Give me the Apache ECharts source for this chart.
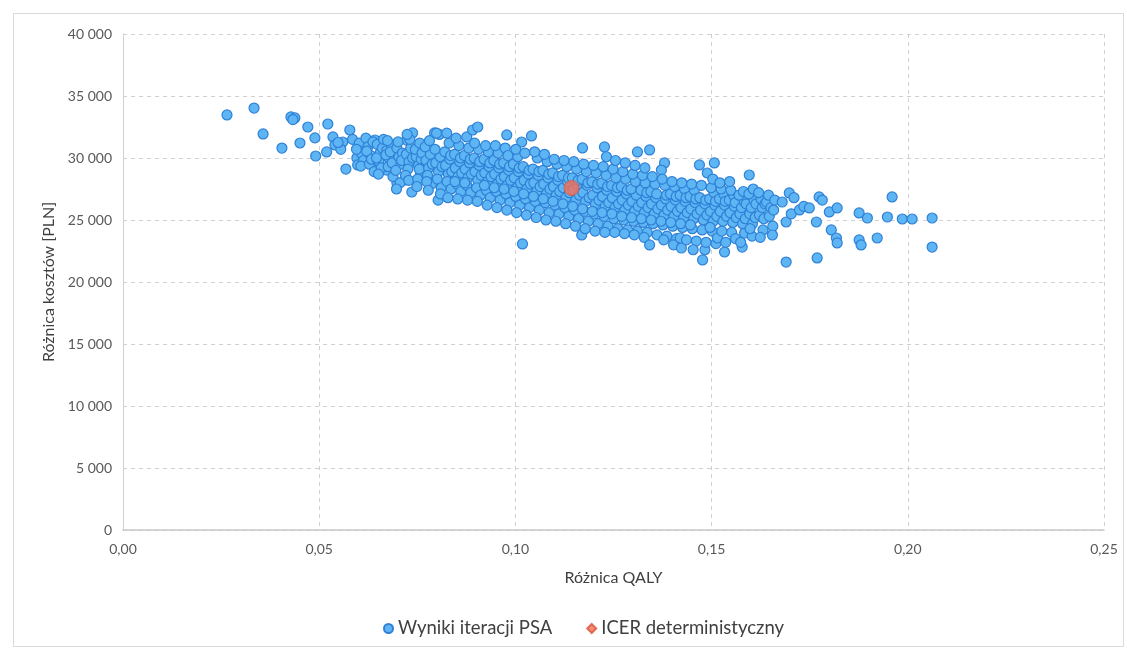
<!DOCTYPE html>
<html>
<head>
<meta charset="utf-8">
<script src="https://cdn.jsdelivr.net/npm/echarts@6/dist/echarts.min.js"></script>
<style>
html,body{margin:0;padding:0;background:#fff;}
#chart{width:1127px;height:651px;}
</style>
</head>
<body>
<div id="chart"></div>
<script>
// ---- Data (QALY difference, cost difference in PLN) ----
const seriesNames = ['Wyniki iteracji PSA', 'ICER deterministyczny'];
const xTicks = [0, 0.05, 0.10, 0.15, 0.20, 0.25];
const yTicks = [0, 5000, 10000, 15000, 20000, 25000, 30000, 35000, 40000];

const psaLeftTail = [
  [0.0265,33470],[0.0334,34030],[0.0357,31940],[0.0405,30800],[0.0428,33310],[0.0438,33230],
  [0.0433,33100],[0.0451,31210],[0.0471,32500],[0.0489,31620],[0.0491,30160],[0.0519,30490],
  [0.0522,32740],[0.0535,31700],[0.0540,31050],[0.0578,32260],[0.0560,31290],[0.0568,29110],
  [0.0596,30000],[0.0598,29440],[0.0616,31050],[0.0642,31450],[0.0647,30080],[0.0637,29440],
  [0.0672,29030],[0.0698,27990],[0.0718,28230],[0.0736,27260],[0.0738,32020],[0.0723,31450],
  [0.0794,32020],[0.0555,30700],[0.0585,31500],[0.0548,31250]
];

const psaCoreA = [
  [0.0602,31200],[0.0608,30350],[0.0613,29800],[0.0595,30700],[0.0619,31600],[0.0606,29350],
  [0.0624,30900],[0.0631,30200],[0.0628,29500],[0.0637,31300],[0.0621,30550],[0.0640,28900],[0.0633,29900],
  [0.0648,31100],[0.0655,30400],[0.0652,29700],[0.0661,30800],[0.0646,30000],[0.0658,29200],[0.0664,31500],[0.0651,28700],
  [0.0672,30600],[0.0679,29900],[0.0676,29300],[0.0684,31000],[0.0670,30250],[0.0688,28500],[0.0681,30500],[0.0674,31400],[0.0686,29600],
  [0.0698,30800],[0.0703,30100],[0.0708,29500],[0.0695,29000],[0.0712,30400],[0.0701,31300],[0.0706,28000],[0.0710,29800],[0.0697,27500],
  [0.0722,30300],[0.0729,29700],[0.0726,29100],[0.0733,30800],[0.0720,28600],[0.0731,31500],[0.0724,31900],[0.0738,30000],[0.0728,28200],
  [0.0747,30100],[0.0753,29400],[0.0758,28800],[0.0745,30700],[0.0760,29900],[0.0751,28300],[0.0756,31200],[0.0749,27700],[0.0762,30400],[0.0755,29100],
  [0.0772,29800],[0.0779,29200],[0.0776,28600],[0.0783,30300],[0.0770,30900],[0.0786,27900],[0.0781,31400],[0.0774,28100],[0.0788,29500],[0.0778,27400],
  [0.0797,29600],[0.0804,28900],[0.0801,28300],[0.0808,30100],[0.0795,30700],[0.0811,27600],[0.0806,31900],[0.0799,32000],[0.0813,29300],[0.0803,26600],[0.0809,27100],
  [0.0822,29400],[0.0829,28700],[0.0826,28100],[0.0833,29900],[0.0820,30500],[0.0836,27500],[0.0831,31200],[0.0825,32000],[0.0838,28900],[0.0828,26800],[0.0835,30200],
  [0.0847,29200],[0.0854,28500],[0.0851,27900],[0.0858,29700],[0.0845,30300],[0.0861,27300],[0.0856,31000],[0.0849,31600],[0.0863,28800],[0.0853,26700],[0.0860,30000],[0.0846,28100],
  [0.0872,29100],[0.0879,28400],[0.0876,27800],[0.0883,29600],[0.0870,30200],[0.0886,27200],[0.0881,30800],[0.0876,31700],[0.0888,28700],[0.0878,26600],[0.0885,29900],[0.0871,28000],
  [0.0897,28900],[0.0904,28200],[0.0901,27600],[0.0908,29400],[0.0895,30000],[0.0911,27000],[0.0906,30700],[0.0891,32260],[0.0904,32500],[0.0913,28600],[0.0903,26500],[0.0909,29700],[0.0896,31200],
  [0.0922,28800],[0.0929,28100],[0.0926,27400],[0.0933,29300],[0.0920,29900],[0.0936,26800],[0.0931,30500],[0.0924,31000],[0.0938,28500],[0.0928,26200],[0.0935,29600],[0.0921,27800],
  [0.0947,28700],[0.0954,27900],[0.0951,27300],[0.0958,29200],[0.0945,29800],[0.0961,26600],[0.0956,30400],[0.0949,31000],[0.0963,28300],[0.0953,26000],[0.0960,29500],[0.0946,27600],
  [0.0972,28500],[0.0979,27800],[0.0976,27100],[0.0983,29000],[0.0970,29600],[0.0986,26400],[0.0978,31860],[0.0974,30800],[0.0988,28200],[0.0978,25800],[0.0985,29300],[0.0971,27500],[0.0981,30200]
];

const psaCoreB = [
  [0.0997,28400],[0.1004,27600],[0.1001,26900],[0.1008,28900],[0.0995,29500],[0.1011,26200],[0.1006,30100],[0.1016,31290],[0.1013,28000],[0.1003,25600],[0.1010,29200],[0.0996,27300],[0.1001,30700],
  [0.1022,28200],[0.1029,27500],[0.1026,26700],[0.1033,28700],[0.1020,29300],[0.1036,26000],[0.1041,31780],[0.1024,30400],[0.1038,27900],[0.1028,25400],[0.1035,29000],[0.1021,27100],[0.1018,23070],
  [0.1047,28000],[0.1054,27300],[0.1051,26500],[0.1058,28600],[0.1045,29100],[0.1061,25800],[0.1056,30000],[0.1049,30500],[0.1063,27700],[0.1053,25200],[0.1060,28900],[0.1046,26900],
  [0.1072,27900],[0.1079,27100],[0.1076,26400],[0.1083,28400],[0.1070,29000],[0.1086,25600],[0.1081,29700],[0.1074,30300],[0.1088,27500],[0.1078,25000],[0.1085,28700],[0.1071,26700],
  [0.1097,27700],[0.1104,27000],[0.1101,26200],[0.1108,28200],[0.1095,28800],[0.1111,25500],[0.1106,29500],[0.1099,29900],[0.1113,27300],[0.1103,24900],[0.1110,28500],[0.1096,26500],
  [0.1122,27600],[0.1129,26800],[0.1126,26000],[0.1133,28100],[0.1120,28600],[0.1136,25300],[0.1131,29300],[0.1124,29800],[0.1138,27200],[0.1128,24700],[0.1135,28400],[0.1121,26300],
  [0.1147,27400],[0.1154,26600],[0.1151,25800],[0.1158,27900],[0.1145,28400],[0.1161,25100],[0.1156,29100],[0.1149,29700],[0.1163,27000],[0.1153,24500],[0.1160,28200],[0.1146,26100],[0.1169,23790],
  [0.1171,30810],[0.1172,27200],[0.1179,26500],[0.1176,25700],[0.1183,27800],[0.1170,28300],[0.1186,24900],[0.1181,28900],[0.1174,29500],[0.1188,26800],[0.1178,24300],[0.1185,28000],[0.1171,25900],
  [0.1197,27000],[0.1204,26300],[0.1201,25500],[0.1208,27600],[0.1195,28100],[0.1211,24700],[0.1206,28800],[0.1199,29400],[0.1213,26600],[0.1203,24100],[0.1210,27900],[0.1196,25700],
  [0.1227,30890],[0.1222,26900],[0.1229,26100],[0.1226,25300],[0.1233,27400],[0.1220,28000],[0.1236,24500],[0.1231,28600],[0.1224,29300],[0.1238,26400],[0.1228,24000],[0.1235,27700],[0.1221,25600],[0.1232,30100],
  [0.1247,26800],[0.1254,26000],[0.1251,25100],[0.1258,27300],[0.1245,27800],[0.1261,24300],[0.1256,28400],[0.1249,29100],[0.1263,26300],[0.1253,24000],[0.1260,27600],[0.1246,25500],[0.1255,29800],
  [0.1272,26600],[0.1279,25800],[0.1276,25000],[0.1283,27100],[0.1270,27700],[0.1286,24200],[0.1281,28300],[0.1274,28900],[0.1288,26200],[0.1278,23900],[0.1285,27400],[0.1271,25300],[0.1280,29600],
  [0.1297,26500],[0.1304,25700],[0.1301,24900],[0.1308,27000],[0.1295,27500],[0.1311,24100],[0.1306,28100],[0.1299,28700],[0.1313,26100],[0.1303,23800],[0.1311,30490],[0.1296,25200],[0.1305,29400],
  [0.1322,26400],[0.1329,25600],[0.1326,24800],[0.1333,26900],[0.1320,27400],[0.1336,24000],[0.1331,28000],[0.1324,28600],[0.1338,26000],[0.1328,23600],[0.1335,27200],[0.1321,25100],[0.1330,29200],
  [0.1342,30650],[0.1347,26300],[0.1354,25500],[0.1351,24700],[0.1358,26800],[0.1345,27300],[0.1361,23800],[0.1356,27900],[0.1349,28500],[0.1363,25900],[0.1342,22990],[0.1360,27100],[0.1346,25000],
  [0.1372,26200],[0.1379,25400],[0.1376,24600],[0.1383,26700],[0.1380,29600],[0.1372,29030],[0.1386,23700],[0.1381,27800],[0.1374,28300],[0.1388,25800],[0.1378,23400],[0.1385,27000],[0.1371,24900]
];

const psaCoreC = [
  [0.1397,26100],[0.1404,25300],[0.1401,24500],[0.1408,26600],[0.1395,27100],[0.1411,23500],[0.1406,27700],[0.1399,28100],[0.1413,25700],[0.1403,23000],[0.1410,26900],[0.1396,24800],
  [0.1423,22740],[0.1420,23550],[0.1422,26000],[0.1429,25200],[0.1426,24400],[0.1433,26500],[0.1420,27000],[0.1436,23400],[0.1431,27500],[0.1424,28000],[0.1438,25600],[0.1435,26800],[0.1421,24700],
  [0.1447,25900],[0.1454,25100],[0.1451,24300],[0.1458,26400],[0.1445,26900],[0.1461,23300],[0.1456,27400],[0.1449,27900],[0.1463,25500],[0.1453,22600],[0.1460,26700],[0.1446,24600],
  [0.1469,29440],[0.1477,21780],[0.1483,22600],[0.1472,25800],[0.1479,25000],[0.1476,24200],[0.1483,26300],[0.1470,26800],[0.1486,23200],[0.1489,28790],[0.1474,27800],[0.1488,25400],[0.1485,26600],
  [0.1507,29600],[0.1497,25700],[0.1504,24900],[0.1501,24100],[0.1508,26200],[0.1495,26700],[0.1511,23100],[0.1506,27200],[0.1499,27600],[0.1513,25300],[0.1510,26500],[0.1496,24400],[0.1503,28300],
  [0.1515,23550],[0.1533,22420],[0.1522,25700],[0.1529,24900],[0.1526,24100],[0.1533,26200],[0.1520,26700],[0.1536,23200],[0.1531,27100],[0.1524,27500],[0.1538,25300],[0.1535,26500],[0.1521,28000],
  [0.1547,25600],[0.1554,24800],[0.1551,24000],[0.1558,26100],[0.1545,26600],[0.1561,23500],[0.1556,27000],[0.1549,27400],[0.1563,25200],[0.1560,26400],[0.1546,28100],
  [0.1578,22820],[0.1584,23950],[0.1572,25500],[0.1579,24700],[0.1576,26000],[0.1583,26500],[0.1570,27000],[0.1586,25100],[0.1581,27300],[0.1574,23200],[0.1596,28630],[0.1588,26300],
  [0.1597,25500],[0.1604,24700],[0.1601,26000],[0.1608,26600],[0.1595,27100],[0.1611,25200],[0.1606,27500],[0.1613,26300],[0.1603,23700],[0.1598,24300],
  [0.1622,25400],[0.1629,26000],[0.1626,26700],[0.1633,25100],[0.1620,27200],[0.1636,26300],[0.1631,24200],[0.1624,23600],
  [0.1640,26450],[0.1647,25300],[0.1651,26000],[0.1658,25800],[0.1645,27000],[0.1661,26600],[0.1656,24500]
];

const psaRightTail = [
  [0.1655,23790],[0.1698,27180],[0.1680,26450],[0.1690,24840],[0.1690,21610],[0.1703,25500],[0.1710,26800],
  [0.1724,25810],[0.1735,26100],[0.1749,25970],[0.1767,24840],[0.1769,21940],[0.1774,26860],[0.1782,26610],
  [0.1800,25650],[0.1820,25970],[0.1805,24200],[0.1818,23550],[0.1820,23150],[0.1876,25570],[0.1897,25160],
  [0.1876,23390],[0.1881,22990],[0.1922,23550],[0.1948,25240],[0.1960,26860],[0.1986,25080],[0.2011,25080],
  [0.2062,25160],[0.2062,22820]
];

const icerPoint = [[0.1143, 27580]];

// ---- Chart ----
const psaData = [].concat(psaLeftTail, psaCoreA, psaCoreB, psaCoreC, psaRightTail);
const FONT = 'Lato, "Liberation Sans", sans-serif';

function fmtThousands(v) {
  return String(Math.round(v)).replace(/\B(?=(\d{3})+(?!\d))/g, ' ');
}

const chart = echarts.init(document.getElementById('chart'), null, {renderer: 'canvas'});
chart.setOption({
  animation: false,
  backgroundColor: '#ffffff',
  textStyle: {fontFamily: FONT},
  graphic: [{
    type: 'rect',
    shape: {x: 13.5, y: 13.5, width: 1110, height: 633},
    style: {fill: 'none', stroke: '#d9d9d9', lineWidth: 1},
    silent: true, z: -1
  }],
  grid: {left: 123, right: 23, top: 34, bottom: 121, containLabel: false},
  legend: {
    bottom: 8,
    left: 378,
    itemGap: 34,
    itemWidth: 9,
    itemHeight: 9,
    textStyle: {fontFamily: FONT, fontSize: 18.5, color: '#404040'},
    data: [
      {name: seriesNames[0], icon: 'circle'},
      {name: seriesNames[1], icon: 'diamond'}
    ]
  },
  xAxis: {
    type: 'value',
    min: xTicks[0],
    max: xTicks[xTicks.length - 1],
    interval: 0.05,
    name: 'Różnica QALY',
    nameLocation: 'middle',
    nameGap: 40,
    nameTextStyle: {fontFamily: FONT, fontSize: 16, color: '#404040'},
    axisLine: {lineStyle: {color: '#c8c8c8', width: 1.5}},
    axisTick: {show: false},
    axisLabel: {
      fontFamily: FONT, fontSize: 14, color: '#595959', margin: 12,
      formatter: v => v.toFixed(2).replace('.', ',')
    },
    splitLine: {show: true, lineStyle: {color: '#d0d0d0', type: [4, 4], width: 1}}
  },
  yAxis: {
    type: 'value',
    min: yTicks[0],
    max: yTicks[yTicks.length - 1],
    interval: 5000,
    name: 'Różnica kosztów [PLN]',
    nameLocation: 'middle',
    nameGap: 66,
    nameRotate: 90,
    nameTextStyle: {fontFamily: FONT, fontSize: 16, color: '#404040'},
    axisLine: {show: true, lineStyle: {color: '#d0d0d0', width: 1}},
    axisTick: {show: false},
    axisLabel: {
      fontFamily: FONT, fontSize: 14, color: '#595959', margin: 11,
      formatter: v => fmtThousands(v)
    },
    splitLine: {show: true, lineStyle: {color: '#d0d0d0', type: [4, 4], width: 1}}
  },
  series: [
    {
      name: seriesNames[0],
      type: 'scatter',
      symbol: 'circle',
      symbolSize: 10,
      data: psaData,
      itemStyle: {color: '#5db5f4', borderColor: '#2f80d6', borderWidth: 1.2, opacity: 1},
      z: 2
    },
    {
      name: seriesNames[1],
      type: 'scatter',
      symbol: 'circle',
      symbolSize: 15,
      data: icerPoint,
      itemStyle: {color: '#f66f55', borderColor: '#d8553c', borderWidth: 1},
      z: 3
    }
  ]
});
</script>
</body>
</html>
